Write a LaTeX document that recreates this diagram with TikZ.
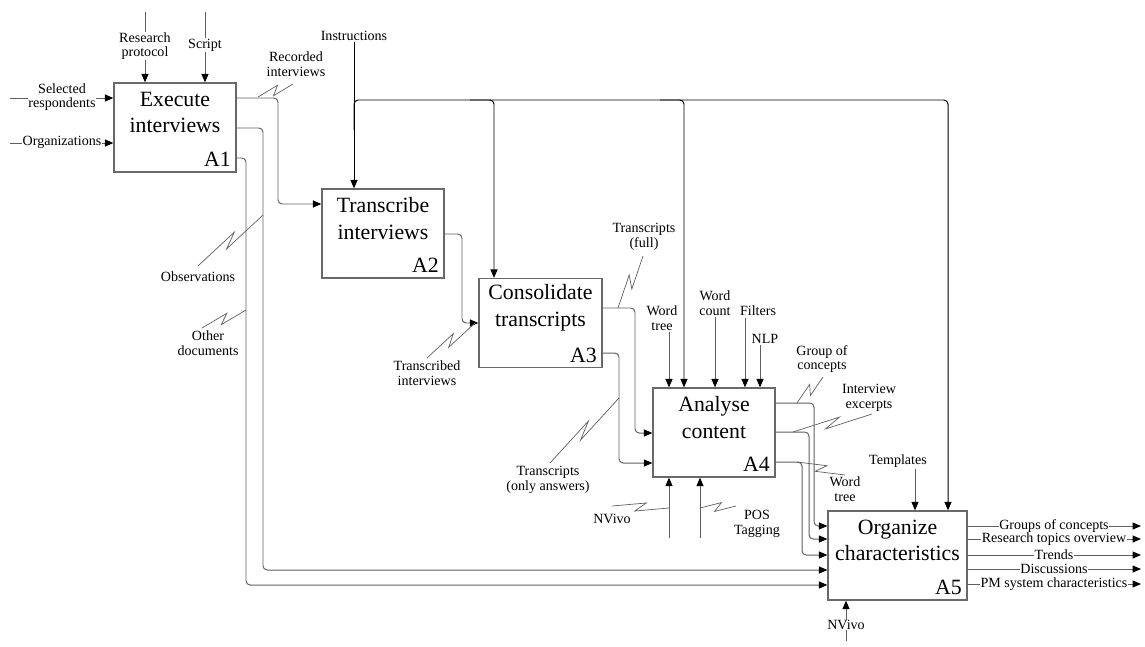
\documentclass[tikz,border=0pt]{standalone}
\usepackage{fontspec}
\setmainfont{Liberation Serif}
\usetikzlibrary{arrows.meta,calc,positioning}
\definecolor{LineGray}{RGB}{95,95,95}
\definecolor{BoxGray}{RGB}{105,105,105}
% activity box: name, centre, width, title, number
\newcommand{\activity}[5]{%
  \node[actbox,minimum width=#3] (#1) at (#2) {};
  \node[acttitle] (#1t) at ($(#1.north)+(0,30)$) {#4};
  \node[actnum,anchor=south east] (#1n) at (#1.south east) {#5};}
% lightning squiggle from an arrow to its label
\newcommand{\squiggle}[2]{%
  \draw[squig] (#1) -- ($(#1)!.6!(#2)!3pt!90:(#2)$)
    -- ($(#1)!.4!(#2)!3pt!-90:(#2)$) -- (#2);}

\begin{document}
\begin{tikzpicture}[x=0.025cm,y=-0.025cm,
  actbox/.style={draw=BoxGray,line width=0.9pt,minimum height=2.225cm,inner sep=0pt},
  acttitle/.style={font=\fontsize{15.5}{19}\selectfont,align=center,inner sep=0pt},
  actnum/.style={font=\fontsize{15.5}{16}\selectfont,inner sep=4pt},
  flow/.style={LineGray,line width=0.7pt,rounded corners=3pt,
    -{Triangle[length=6pt,width=5pt,color=black]}},
  ctrl/.style={flow,black},
  lbl/.style={font=\fontsize{10}{10.5}\selectfont,align=center,inner sep=1pt},
  onl/.style={lbl,fill=white,inner sep=0.5pt},
  squig/.style={LineGray,line width=0.5pt}]
  \useasboundingbox (0,0) rectangle (1145,646);

  % activities
  \activity{a1}{175,127.5}{3.05cm}{Execute\\interviews}{A1}
  \activity{a2}{383,233.5}{3.05cm}{Transcribe\\interviews}{A2}
  \activity{a3}{540.5,323}{3.075cm}{Consolidate\\transcripts}{A3}
  \activity{a4}{714,432.5}{3.05cm}{Analyse\\content}{A4}
  \activity{a5}{897.5,555.5}{3.475cm}{Organize\\characteristics}{A5}

  % inputs and controls of A1
  \coordinate (selin) at (10,98);
  \coordinate (orgin) at (10,143);
  \coordinate (rpin) at (145,12);
  \coordinate (scin) at (205,12);
  \draw[flow] (selin) -- (a1.west |- selin);
  \draw[flow] (orgin) -- (a1.west |- orgin);
  \draw[flow] (rpin) -- (a1.north -| rpin);
  \draw[flow] (scin) -- (a1.north -| scin);
  \node[onl] (sel) at (62,97) {Selected\\respondents};
  \node[onl] (org) at (62,142) {Organizations};
  \node[onl] (rp) at (145,46) {Research\\protocol};
  \node[onl] (sc) at (205,45) {Script};

  % outputs of A1
  \draw[flow] (a1.east |- 0,98) -- (278,98) -- (278,204) -- (a2.west |- 0,204);
  \draw[flow] (a1.east |- 0,128) -- (263,128) -- (263,570) -- (a5.west |- 0,570);
  \draw[flow] (a1.east |- 0,158) -- (246,158) -- (246,585) -- (a5.west |- 0,585);
  \node[lbl] (rec) at (296,64) {Recorded\\interviews};
  \node[lbl] (obs) at (198,277) {Observations};
  \node[lbl] (oth) at (208,343) {Other\\documents};
  \squiggle{258,97}{293,84}
  \squiggle{263,215}{198,266}
  \squiggle{246,310}{202,328}

  % instructions bus
  \node[lbl] (ins) at (354,36) {Instructions};
  \draw[ctrl] (ins.south) -- (a2.north -| ins.south);
  \draw[ctrl] (354,130) -- (354,100) -- (948,100) -- (a5.north -| 948,0);
  \draw[ctrl] (470,100) -- (494,100) -- (a3.north -| 494,0);
  \draw[ctrl] (660,100) -- (684,100) -- (a4.north -| 684,0);

  % A2 -> A3
  \draw[flow] (a2.east |- 0,234) -- (462,234) -- (462,323) -- (a3.west |- 0,323);
  \node[lbl] (tri) at (427,373) {Transcribed\\interviews};
  \squiggle{475,323}{427,358}

  % A3 -> A4
  \draw[flow] (a3.east |- 0,308) -- (635,308) -- (635,433) -- (a4.west |- 0,433);
  \draw[flow] (a3.east |- 0,353) -- (619,353) -- (619,463) -- (a4.west |- 0,463);
  \node[lbl] (trf) at (644,237) {Transcripts\\(full)};
  \node[lbl] (tra) at (548,480) {Transcripts\\(only answers)};
  \squiggle{618,308}{643,256}
  \squiggle{619,398}{550,463}

  % controls and mechanisms of A4
  \node[lbl] (wt) at (662,318) {Word\\tree};
  \node[lbl] (wc) at (715,303) {Word\\count};
  \node[lbl] (fil) at (758,311) {Filters};
  \node[lbl] (nlp) at (765,339) {NLP};
  \draw[flow] (wt.south -| 669,0) -- (a4.north -| 669,0);
  \draw[flow] (wc.south) -- (a4.north -| wc.south);
  \draw[flow] (fil.south -| 745,0) -- (a4.north -| 745,0);
  \draw[flow] (nlp.south -| 760,0) -- (a4.north -| 760,0);
  \draw[flow] (669,538) -- (a4.south -| 669,0);
  \draw[flow] (700,538) -- (a4.south -| 700,0);
  \node[lbl] (nv4) at (612,519) {NVivo};
  \node[lbl] (pos) at (757,524) {POS\\Tagging};
  \squiggle{669,508}{612,506}
  \squiggle{700,508}{736,506}

  % A4 -> A5
  \draw[flow] (a4.east |- 0,403) -- (814,403) -- (814,526) -- (a5.west |- 0,526);
  \draw[flow] (a4.east |- 0,432) -- (809,432) -- (809,539) -- (a5.west |- 0,539);
  \draw[flow] (a4.east |- 0,462) -- (802,462) -- (802,555) -- (a5.west |- 0,555);
  \node[lbl] (gc) at (822,359) {Group of\\concepts};
  \node[lbl] (ie) at (869,398) {Interview\\excerpts};
  \node[lbl] (wt2) at (845,489) {Word\\tree};
  \squiggle{797,403}{823,377}
  \squiggle{793,432}{872,414}
  \squiggle{797,462}{845,475}

  % control, mechanism and outputs of A5
  \node[lbl] (tpl) at (898,461) {Templates};
  \draw[flow] (tpl.south -| 915,0) -- (a5.north -| 915,0);
  \coordinate (nv5in) at (846,641);
  \draw[flow] (nv5in) -- (a5.south -| nv5in);
  \node[onl] (nv5) at (846,625) {NVivo};
  \foreach \y/\txt [count=\i] in {526/Groups of concepts,
      539/Research topics overview, 555/Trends, 569/Discussions,
      584/PM system characteristics}{
    \coordinate (out\i) at (1141,\y);
    \draw[flow] (a5.east |- out\i) -- (out\i);
    \node[onl] (res\i) at (1054,\y) {\txt};
  }
\end{tikzpicture}
\end{document}
